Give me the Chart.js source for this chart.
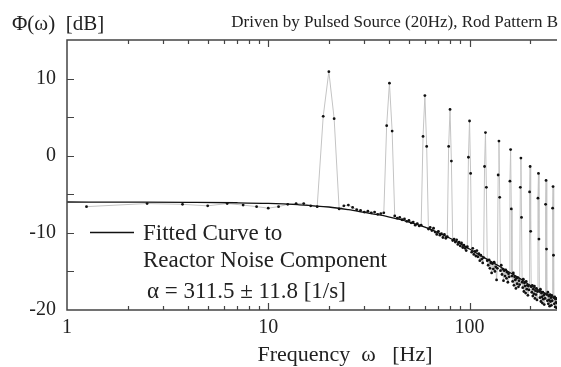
<!DOCTYPE html>
<html>
<head>
<meta charset="utf-8">
<script src="https://cdn.jsdelivr.net/npm/chart.js@4"></script>
<style>
  html, body { margin: 0; padding: 0; background: #fff; }
  canvas { display: block; }
</style>
</head>
<body>
<canvas id="spectrum" width="561" height="367"></canvas>
<script>
// spectrum bins are 1.25 Hz apart, first bin at 1.25 Hz
const binWidth = 1.25;

// measured power spectral density [dB], one value per bin (1.25 .. 275 Hz)
const phiDb = [
  -6.6, -6.2, -6.3, -6.5, -6.2, -6.4, -6.6, -6.8, -6.6, -6.3, -6.2, -6.2, -6.5, -6.6, 5.1, 10.9,
  4.8, -6.9, -6.5, -6.4, -6.7, -7.0, -7.1, -7.3, -7.2, -7.4, -7.3, -7.6, -7.5, -7.4, 3.9, 9.4,
  3.2, -7.8, -8.1, -8.0, -8.3, -8.2, -8.5, -8.4, -8.7, -8.6, -9.0, -8.8, -9.1, -9.0, 2.5, 7.8,
  1.2, -9.5, -9.3, -9.7, -9.4, -9.9, -10.2, -9.8, -10.3, -10.1, -10.6, -10.2, -10.7, -10.5, 1.2, 6.0,
  -0.7, -11.0, -10.8, -11.2, -10.9, -11.5, -11.2, -11.7, -11.3, -11.9, -11.6, -12.0, -12.3, -11.8, -0.2, 4.5,
  -2.3, -12.5, -12.0, -12.8, -12.4, -13.0, -12.3, -13.1, -12.7, -13.6, -12.9, -13.4, -13.9, -13.2, -1.4, 3.0,
  -4.1, -13.6, -14.2, -13.5, -14.6, -13.9, -15.2, -14.0, -14.7, -13.8, -15.0, -14.4, -16.1, -14.6, -2.5, 1.9,
  -5.4, -14.9, -14.2, -15.4, -14.7, -16.2, -14.9, -15.6, -14.8, -15.9, -15.1, -16.4, -15.3, -15.7, -3.3, 0.8,
  -6.9, -15.6, -16.3, -15.2, -16.8, -15.7, -16.1, -17.2, -15.9, -16.6, -15.8, -17.0, -16.2, -16.7, -4.1, -0.3,
  -8.0, -16.4, -17.1, -16.0, -17.6, -16.5, -16.9, -17.8, -16.3, -17.3, -16.8, -18.1, -16.9, -17.4, -4.7, -1.4,
  -9.8, -17.0, -17.7, -16.8, -18.2, -17.3, -17.9, -16.9, -18.5, -17.5, -18.0, -17.2, -18.7, -17.6, -5.5, -2.3,
  -10.8, -17.6, -18.4, -17.3, -18.9, -17.8, -18.3, -19.1, -17.7, -18.6, -18.1, -19.3, -17.9, -18.5, -6.3, -3.2,
  -12.1, -18.0, -18.8, -17.7, -19.2, -18.2, -18.7, -19.5, -18.0, -18.9, -18.4, -19.4, -18.1, -18.8, -6.8, -4.0,
  -12.9, -18.4, -19.2, -18.3, -19.6, -18.6, -19.0, -19.7, -18.5, -19.1, -18.8, -19.4
];

// fitted reactor-noise curve
const fitFreq = [1, 2, 4, 7, 10, 14, 20, 25, 30, 35, 40, 45, 50, 60, 70, 80, 90, 100, 120, 140, 160, 180, 200, 220, 240, 272];
const fitDb = [-6.0, -6.02, -6.05, -6.1, -6.18, -6.35, -6.65, -7.0, -7.35, -7.65, -7.95, -8.25, -8.6, -9.25, -10.0, -10.7, -11.4, -12.1, -13.3, -14.3, -15.2, -16.0, -16.8, -17.4, -17.9, -18.6];

const xTickLabels = [1, 10, 100];
const yTickLabels = [10, 0, -10, -20];

const serif = '"Liberation Serif", "Times New Roman", serif';
const ink = '#222';
const axisColor = '#444';

const measured = phiDb.map((v, i) => ({ x: (i + 1) * binWidth, y: v }));
const fitted = fitFreq.map((f, i) => ({ x: f, y: fitDb[i] }));

// axes frame with inward tick marks, plus the annotation texts
const frame = {
  id: 'frame',
  afterDraw(chart) {
    const ctx = chart.ctx;
    const { left, right, top, bottom } = chart.chartArea;
    const xs = chart.scales.x;
    const ys = chart.scales.y;

    ctx.save();
    ctx.strokeStyle = axisColor;
    ctx.lineWidth = 1.5;
    ctx.beginPath();
    ctx.moveTo(right, top);
    ctx.lineTo(left, top);
    ctx.lineTo(left, bottom);
    ctx.lineTo(right, bottom);
    ctx.stroke();

    ctx.lineWidth = 1.2;
    ctx.beginPath();
    xs.ticks.forEach(t => {
      const e = Math.log10(t.value);
      const mant = t.value / Math.pow(10, Math.floor(e));
      if (Math.abs(mant - Math.round(mant)) > 1e-6) return;
      const px = Math.round(xs.getPixelForValue(t.value)) + 0.5;
      if (px <= left + 1 || px >= right - 1) return;
      const len = Number.isInteger(e) ? 7 : 4;
      ctx.moveTo(px, bottom);
      ctx.lineTo(px, bottom - len);
      ctx.moveTo(px, top);
      ctx.lineTo(px, top + len);
    });
    ys.ticks.forEach(t => {
      const py = Math.round(ys.getPixelForValue(t.value)) + 0.5;
      if (py <= top + 1 || py >= bottom - 1) return;
      ctx.moveTo(left, py);
      ctx.lineTo(left + 7, py);
    });
    ctx.stroke();

    ctx.fillStyle = ink;
    ctx.textBaseline = 'alphabetic';
    ctx.font = '21px ' + serif;
    ctx.textAlign = 'left';
    ctx.fillText('Φ(ω)  [dB]', 12, 30);

    ctx.font = '17px ' + serif;
    ctx.textAlign = 'right';
    ctx.fillText('Driven by Pulsed Source (20Hz), Rod Pattern B', 558, 27);

    ctx.font = '22px ' + serif;
    ctx.textAlign = 'center';
    ctx.fillText('Frequency  ω   [Hz]', 345, 361);

    // legend for the fitted curve
    ctx.strokeStyle = '#111';
    ctx.lineWidth = 1.3;
    ctx.beginPath();
    ctx.moveTo(90, 232.5);
    ctx.lineTo(134, 232.5);
    ctx.stroke();
    ctx.font = '23px ' + serif;
    ctx.textAlign = 'left';
    ctx.fillText('Fitted Curve to', 143, 240);
    ctx.fillText('Reactor Noise Component', 143, 267);
    ctx.fillText('α = 311.5 ± 11.8 [1/s]', 147, 298);
    ctx.restore();
  }
};

new Chart(document.getElementById('spectrum'), {
  type: 'scatter',
  data: {
    datasets: [
      {
        label: 'Fitted Curve',
        data: fitted,
        showLine: true,
        borderColor: '#111',
        borderWidth: 1.3,
        pointRadius: 0,
        cubicInterpolationMode: 'monotone',
        order: 0
      },
      {
        label: 'Φ(ω)',
        data: measured,
        showLine: true,
        borderColor: '#c4c4c4',
        borderWidth: 1,
        pointRadius: 1.4,
        pointBackgroundColor: '#111',
        pointBorderWidth: 0,
        order: 1
      }
    ]
  },
  options: {
    responsive: false,
    animation: false,
    layout: { padding: { top: 40, right: 0, left: 0, bottom: 0 } },
    plugins: {
      legend: { display: false },
      tooltip: { enabled: false }
    },
    scales: {
      x: {
        type: 'logarithmic',
        min: 1,
        max: 272,
        grid: { display: false, drawTicks: false },
        border: { display: false },
        ticks: {
          autoSkip: false,
          maxRotation: 0,
          padding: 0,
          color: ink,
          font: { family: serif, size: 20, lineHeight: 1.8 },
          callback: v => xTickLabels.includes(v) ? String(v) : ''
        },
        // the frame runs right up to the canvas edge
        afterFit: s => { s.height = 57; s.paddingLeft = 0; s.paddingRight = 0; }
      },
      y: {
        min: -20,
        max: 15,
        grid: { display: false, drawTicks: false },
        border: { display: false },
        ticks: {
          stepSize: 5,
          padding: 11,
          color: ink,
          font: { family: serif, size: 20 },
          callback: v => yTickLabels.includes(v) ? String(v) : ''
        },
        afterFit: s => { s.width = 67; }
      }
    }
  },
  plugins: [frame]
});
</script>
</body>
</html>
